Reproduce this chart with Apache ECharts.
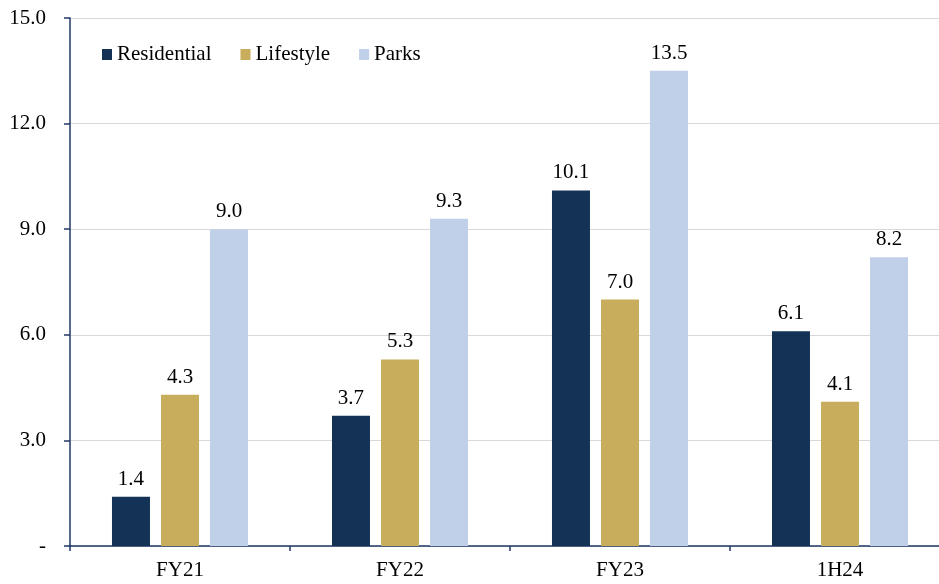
<!DOCTYPE html>
<html><head><meta charset="utf-8">
<script src="https://cdn.jsdelivr.net/npm/echarts@6/dist/echarts.min.js"></script>
<style>html,body{margin:0;padding:0;background:#fff;overflow:hidden}#c{width:950px;height:584px}</style>
</head><body><div id="c"></div>
<script>
const categories = ['FY21','FY22','FY23','1H24'];
const residential = [1.4, 3.7, 10.1, 6.1];
const lifestyle = [4.3, 5.3, 7.0, 4.1];
const parks = [9.0, 9.3, 13.5, 8.2];
const seriesNames = ['Residential','Lifestyle','Parks'];
const colors = ['#133256','#C8AD5C','#C0D0E9'];
const font = '"Liberation Serif","Times New Roman",serif';
const chart = echarts.init(document.getElementById('c'));
function mk(name, data, color){
  return {name, type:'bar', data, barWidth:38, barGap:'29%',
    itemStyle:{color},
    label:{show:true, position:'top', distance:7, formatter:p=>p.value.toFixed(1),
      fontFamily:font, fontSize:21, color:'#000'}};
}
chart.setOption({
  animation:false,
  textStyle:{fontFamily:font},
  grid:{left:70, right:0, top:18, bottom:38, containLabel:false},
  legend:{left:97, top:39, itemWidth:10, itemHeight:11, itemGap:29,
    icon:'rect', textStyle:{fontFamily:font, fontSize:21, color:'#000'},
    data:seriesNames},
  xAxis:{type:'category', data:categories,
    axisLine:{lineStyle:{color:'#1F3864', width:1.5}},
    axisTick:{show:true, length:5, lineStyle:{color:'#1F3864', width:1.5}},
    axisLabel:{fontFamily:font, fontSize:21, color:'#000', margin:14}},
  yAxis:{type:'value', min:0, max:15, interval:3,
    axisLine:{show:true, lineStyle:{color:'#1F3864', width:1.5}},
    axisTick:{show:true, length:6, lineStyle:{color:'#1F3864', width:1.5}},
    splitLine:{lineStyle:{color:'#D9D9D9', width:1}},
    axisLabel:{fontFamily:font, fontSize:21, color:'#000', margin:24,
      formatter:v=> v===0 ? '-' : v.toFixed(1)}},
  series:[mk(seriesNames[0], residential, colors[0]), mk(seriesNames[1], lifestyle, colors[1]), mk(seriesNames[2], parks, colors[2])]
});
</script></body></html>
